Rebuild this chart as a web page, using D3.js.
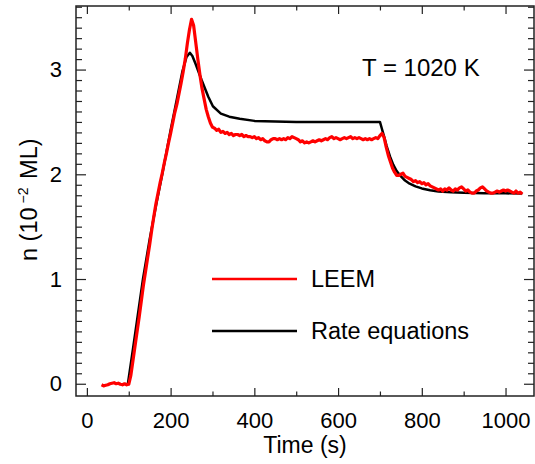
<!DOCTYPE html>
<html>
<head>
<meta charset="utf-8">
<script src="https://cdn.jsdelivr.net/npm/d3@7"></script>
<style>
    body { margin: 0; background: #fff; }
    text { font-family: "Liberation Sans", Arial, Helvetica, sans-serif; fill: #000; }
</style>
</head>
<body>
<svg width="535" height="464"></svg>
<script>
var leemTime = [35, 40, 45, 50, 55, 60, 65, 70, 75, 80, 85, 90, 95, 100,
    105, 110, 115, 120, 125, 130, 135, 140, 145, 150, 155, 160, 165, 170, 175, 180,
    185, 190, 195, 200, 205, 210, 215, 220, 225, 230, 235, 240, 245, 250, 255, 260,
    265, 270, 275, 280, 285, 290, 295, 300, 305, 310, 315, 320, 325, 330, 335, 340,
    345, 350, 355, 360, 365, 370, 375, 380, 385, 390, 395, 400, 405, 410, 415, 420,
    425, 430, 435, 440, 445, 450, 455, 460, 465, 470, 475, 480, 485, 490, 495, 500,
    505, 510, 515, 520, 525, 530, 535, 540, 545, 550, 555, 560, 565, 570, 575, 580,
    585, 590, 595, 600, 605, 610, 615, 620, 625, 630, 635, 640, 645, 650, 655, 660,
    665, 670, 675, 680, 685, 690, 695, 700, 705, 710, 715, 720, 725, 730, 735, 740,
    745, 750, 755, 760, 765, 770, 775, 780, 785, 790, 795, 800, 805, 810, 815, 820,
    825, 830, 835, 840, 845, 850, 855, 860, 865, 870, 875, 880, 885, 890, 895, 900,
    905, 910, 915, 920, 925, 930, 935, 940, 945, 950, 955, 960, 965, 970, 975, 980,
    985, 990, 995, 1000, 1005, 1010, 1015, 1020, 1025, 1030, 1035, 1040];
var leemN = [-0.01, -0.02, -0.015, -0.01, 0.0, 0.005, 0.01, 0.0, 0.005, -0.005, -0.01, 0.0, -0.01, -0.005,
    0.08, 0.22, 0.36, 0.5, 0.64, 0.79, 0.94, 1.07, 1.2, 1.33, 1.47, 1.6, 1.72, 1.82, 1.92, 2.01,
    2.11, 2.2, 2.3, 2.39, 2.49, 2.59, 2.67, 2.77, 2.87, 2.98, 3.1, 3.25, 3.38, 3.48, 3.42, 3.26,
    3.1, 2.95, 2.82, 2.72, 2.62, 2.55, 2.49, 2.45, 2.44, 2.42, 2.43, 2.40, 2.41, 2.39, 2.40, 2.38,
    2.39, 2.37, 2.38, 2.38, 2.37, 2.38, 2.36, 2.37, 2.36, 2.36, 2.35, 2.36, 2.34, 2.35, 2.33, 2.34,
    2.32, 2.31, 2.31, 2.33, 2.34, 2.34, 2.33, 2.34, 2.33, 2.34, 2.33, 2.35, 2.34, 2.36, 2.35, 2.34,
    2.33, 2.31, 2.32, 2.30, 2.31, 2.30, 2.31, 2.32, 2.31, 2.32, 2.33, 2.32, 2.33, 2.34, 2.33, 2.35,
    2.36, 2.34, 2.35, 2.34, 2.33, 2.34, 2.35, 2.34, 2.35, 2.36, 2.34, 2.35, 2.34, 2.35, 2.34, 2.33,
    2.34, 2.33, 2.34, 2.33, 2.34, 2.35, 2.34, 2.37, 2.39, 2.35, 2.26, 2.18, 2.12, 2.06, 2.02, 1.99,
    1.99, 2.0, 2.01, 1.98, 1.97, 1.96, 1.95, 1.93, 1.94, 1.92, 1.93, 1.91, 1.92, 1.90, 1.91, 1.89,
    1.88, 1.87, 1.86, 1.85, 1.86, 1.84, 1.86, 1.85, 1.87, 1.85, 1.84, 1.86, 1.85, 1.87, 1.88, 1.86,
    1.84, 1.85, 1.83, 1.82, 1.82, 1.84, 1.85, 1.87, 1.88, 1.86, 1.84, 1.83, 1.82, 1.82, 1.83, 1.84,
    1.83, 1.84, 1.85, 1.84, 1.85, 1.84, 1.83, 1.82, 1.84, 1.82, 1.83, 1.81];

// rate equations model
var rateTime = [98, 110, 120, 134, 150, 165, 180, 200, 215, 228, 238, 246, 252, 260, 274, 290,
    301, 320, 340, 365, 400, 450, 500, 600, 700, 705, 710, 716, 724, 732, 740, 748,
    760, 771, 785, 800, 820, 840, 870, 900, 950, 1000, 1040];
var rateN = [0, 0.33, 0.61, 1.0, 1.38, 1.7, 2.0, 2.42, 2.72, 2.98, 3.12, 3.16, 3.13, 3.05, 2.9, 2.74,
    2.65, 2.58, 2.55, 2.53, 2.51, 2.505, 2.5, 2.5, 2.5, 2.43, 2.36, 2.27, 2.17, 2.09, 2.03, 1.99,
    1.94, 1.91, 1.885, 1.865, 1.848, 1.835, 1.828, 1.823, 1.82, 1.818, 1.817];

var xMajor = [0, 200, 400, 600, 800, 1000];
var xMinor = [100, 300, 500, 700, 900];
var yMajor = [0, 1, 2, 3];
var yMinor = [0.1, 0.2, 0.3, 0.4, 0.5, 0.6, 0.7, 0.8, 0.9, 1.1, 1.2, 1.3, 1.4, 1.5, 1.6, 1.7, 1.8, 1.9,
    2.1, 2.2, 2.3, 2.4, 2.5, 2.6, 2.7, 2.8, 2.9, 3.1, 3.2, 3.3, 3.4, 3.5, 3.6];

var svg = d3.select("svg");
var plotLeft = 76, plotRight = 534, plotTop = 6, plotBottom = 396;

var x = d3.scaleLinear().domain([-26, 1068]).range([plotLeft, plotRight]);
var y = d3.scaleLinear().domain([-0.117, 3.607]).range([plotBottom, plotTop]);

function styleAxis(g) {
    g.select(".domain").remove();
    g.selectAll("line").attr("stroke", "#222").attr("stroke-width", 1.2);
    g.selectAll("text").style("font-size", "22px");
}

// minor ticks
svg.append("g").attr("transform", "translate(0," + plotBottom + ")")
    .call(d3.axisBottom(x).tickValues(xMinor).tickSize(-4.5).tickFormat(""))
    .call(styleAxis);
svg.append("g").attr("transform", "translate(0," + plotTop + ")")
    .call(d3.axisTop(x).tickValues(xMinor).tickSize(-4.5).tickFormat(""))
    .call(styleAxis);
svg.append("g").attr("transform", "translate(" + plotLeft + ",0)")
    .call(d3.axisLeft(y).tickValues(yMinor).tickSize(-6).tickFormat(""))
    .call(styleAxis);
svg.append("g").attr("transform", "translate(" + plotRight + ",0)")
    .call(d3.axisRight(y).tickValues(yMinor).tickSize(-6).tickFormat(""))
    .call(styleAxis);

// major ticks
svg.append("g").attr("transform", "translate(0," + plotBottom + ")")
    .call(d3.axisBottom(x).tickValues(xMajor).tickSizeInner(-8).tickSizeOuter(0).tickPadding(16)
        .tickFormat(d3.format("d")))
    .call(styleAxis);
svg.append("g").attr("transform", "translate(0," + plotTop + ")")
    .call(d3.axisTop(x).tickValues(xMajor).tickSize(-8).tickFormat(""))
    .call(styleAxis);
svg.append("g").attr("transform", "translate(" + plotLeft + ",0)")
    .call(d3.axisLeft(y).tickValues(yMajor).tickSizeInner(-10).tickSizeOuter(0).tickPadding(14)
        .tickFormat(d3.format("d")))
    .call(styleAxis);
svg.append("g").attr("transform", "translate(" + plotRight + ",0)")
    .call(d3.axisRight(y).tickValues(yMajor).tickSize(-10).tickFormat(""))
    .call(styleAxis);

svg.append("rect")
    .attr("x", plotLeft).attr("y", plotTop)
    .attr("width", plotRight - plotLeft).attr("height", plotBottom - plotTop)
    .attr("fill", "none").attr("stroke", "#222").attr("stroke-width", 1.5);

var line = d3.line()
    .x(function (d) { return x(d[0]); })
    .y(function (d) { return y(d[1]); });

svg.append("path")
    .datum(d3.zip(rateTime, rateN))
    .attr("d", line)
    .attr("fill", "none").attr("stroke", "#000")
    .attr("stroke-width", 2.5).attr("stroke-linejoin", "round");

svg.append("path")
    .datum(d3.zip(leemTime, leemN))
    .attr("d", line)
    .attr("fill", "none").attr("stroke", "#ff0000")
    .attr("stroke-width", 3.2).attr("stroke-linejoin", "round");

// labels
svg.append("text").attr("x", 305).attr("y", 453)
    .attr("text-anchor", "middle").style("font-size", "23px").text("Time (s)");

var ylab = svg.append("text")
    .attr("transform", "translate(37,261) rotate(-90)")
    .style("font-size", "23.5px");
ylab.append("tspan").text("n (10");
ylab.append("tspan").attr("dx", 4).attr("dy", -9).style("font-size", "14px").text("\u22122");
ylab.append("tspan").attr("dx", 2).attr("dy", 9).text(" ML)");

svg.append("text").attr("x", 362).attr("y", 76)
    .style("font-size", "24px").text("T = 1020 K");

// legend
var legend = [["LEEM", "#ff0000", 279], ["Rate equations", "#000", 331]];
legend.forEach(function (d) {
    svg.append("line")
        .attr("x1", 212).attr("x2", 297).attr("y1", d[2]).attr("y2", d[2])
        .attr("stroke", d[1]).attr("stroke-width", 2.5);
    svg.append("text").attr("x", 311).attr("y", d[2] + 7.5)
        .style("font-size", "23.5px").text(d[0]);
});
</script>
</body>
</html>
